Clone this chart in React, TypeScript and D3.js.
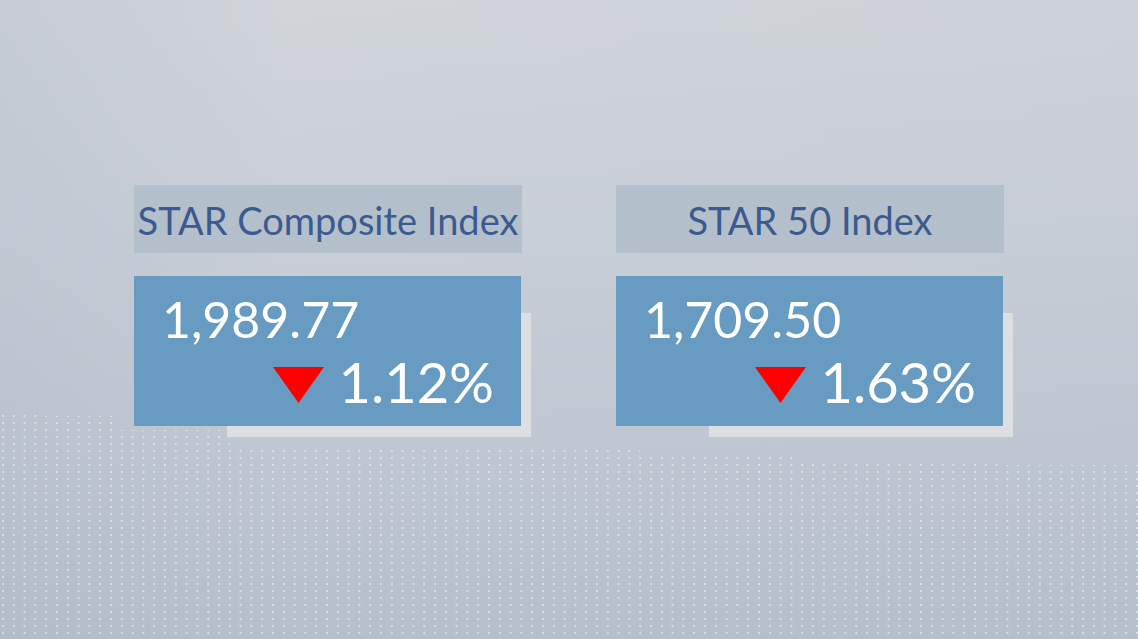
import { useRef, useEffect } from 'react'
import * as d3 from "d3";

// index names, closing values and % change (negative = down)
const indexNames = ["STAR Composite Index", "STAR 50 Index"];
const closeValues = [1989.77, 1709.50];
const pctChanges = [-1.12, -1.63];

// faded stepped backdrop behind the cards (x start, top of dotted area)
const skylineX = [0, 45, 120, 230, 640, 800, 1000, 1138];
const skylineTop = [410, 416, 430, 446, 455, 460, 465, 465];

const W = 1138;
const H = 639;

function App() {
  const svgRef = useRef<SVGSVGElement>(null);

  useEffect(() => {
    const svg = d3.select(svgRef.current);
    svg.selectAll("*").remove();

    const defs = svg.append("defs");
    const grad = defs.append("linearGradient")
      .attr("id", "bg").attr("x1", 0).attr("y1", 0).attr("x2", 0).attr("y2", 1);
    [["0%", "#d3d6db"], ["35%", "#cbd0da"], ["70%", "#c0c8d3"], ["100%", "#b5c0cc"]]
      .forEach(([o, c]) => grad.append("stop").attr("offset", o).attr("stop-color", c));

    const side = defs.append("linearGradient")
      .attr("id", "side").attr("x1", 0).attr("y1", 0).attr("x2", 1).attr("y2", 0);
    side.append("stop").attr("offset", "0%").attr("stop-color", "#aab6c2").attr("stop-opacity", 0.3);
    side.append("stop").attr("offset", "25%").attr("stop-color", "#aab6c2").attr("stop-opacity", 0.05);
    side.append("stop").attr("offset", "100%").attr("stop-color", "#aab6c2").attr("stop-opacity", 0.12);

    const pat = defs.append("pattern")
      .attr("id", "dots").attr("patternUnits", "userSpaceOnUse")
      .attr("width", 10.8).attr("height", 7);
    pat.append("circle").attr("cx", 3).attr("cy", 3).attr("r", 1)
      .attr("fill", "#ffffff").attr("fill-opacity", 0.6);

    svg.append("rect").attr("width", W).attr("height", H).attr("fill", "url(#bg)");
    svg.append("rect").attr("width", W).attr("height", H).attr("fill", "url(#side)");

    // dotted lower area
    const skyline = skylineX.map((x, i) => [x, skylineTop[i]] as [number, number]);
    const area = d3.area<[number, number]>()
      .x(d => d[0]).y0(H).y1(d => d[1])
      .curve(d3.curveStepAfter);
    svg.append("path").attr("d", area(skyline)).attr("fill", "url(#dots)");

    // card layout
    const x = d3.scaleBand<string>()
      .domain(indexNames)
      .range([134, 1004])
      .paddingInner(0.195);
    const bw = x.bandwidth();

    const y = { headTop: 185, headBottom: 253, bodyTop: 276, bodyBottom: 426 };
    const fmtVal = d3.format(",.2f");
    const fmtPct = (v: number) => d3.format(".2f")(Math.abs(v)) + "%";

    const cards = svg.selectAll("g.card")
      .data(indexNames.map((name, i) => ({ name, value: closeValues[i], change: pctChanges[i] })))
      .join("g")
      .attr("class", "card")
      .attr("transform", d => `translate(${x(d.name)},0)`);

    // header
    cards.append("rect")
      .attr("x", 0).attr("y", y.headTop)
      .attr("width", bw).attr("height", y.headBottom - y.headTop)
      .attr("fill", "#b3c0cb");
    cards.append("text")
      .attr("x", bw / 2).attr("y", 235)
      .attr("text-anchor", "middle")
      .attr("font-family", "Lato, 'Open Sans', sans-serif")
      .attr("font-size", 38)
      .attr("fill", "#3c5a8f")
      .text(d => d.name);

    // shadow panel behind body
    cards.append("rect")
      .attr("x", 93).attr("y", 313)
      .attr("width", bw - 84).attr("height", 437 - 313)
      .attr("fill", "#dcdee1");

    // body
    cards.append("rect")
      .attr("x", 0).attr("y", y.bodyTop)
      .attr("width", bw - 1).attr("height", y.bodyBottom - y.bodyTop)
      .attr("fill", "#679bc1");

    cards.append("text")
      .attr("x", 28).attr("y", 338)
      .attr("font-family", "Lato, 'Open Sans', sans-serif")
      .attr("font-size", 50)
      .attr("fill", "#ffffff")
      .text(d => fmtVal(d.value));

    cards.append("text")
      .attr("x", bw - 28).attr("y", 403)
      .attr("text-anchor", "end")
      .attr("font-family", "Lato, 'Open Sans', sans-serif")
      .attr("font-size", 56)
      .attr("fill", "#ffffff")
      .text(d => fmtPct(d.change));

    // down arrow
    cards.append("path")
      .attr("d", d => {
        const tri = d.change < 0
          ? [[139, 367], [190, 367], [164.5, 403]]
          : [[139, 403], [190, 403], [164.5, 367]];
        return d3.line()(tri as [number, number][]) + "Z";
      })
      .attr("fill", d => d.change < 0 ? "#ff0000" : "#1aa33a");
  }, []);

  return (
    <svg
      ref={svgRef}
      width={W}
      height={H}
      style={{ position: "absolute", left: 0, top: 0, display: "block" }}
    />
  );
}

export default App;
